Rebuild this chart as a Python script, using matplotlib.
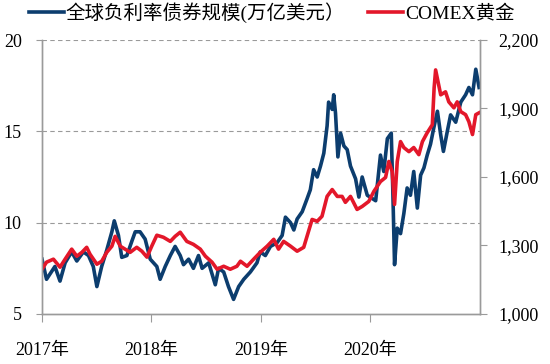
import pandas as pd
import matplotlib.pyplot as plt

plt.rcParams['font.family'] = ['Liberation Serif', 'Noto Sans CJK SC']

# 全球负利率债券规模（万亿美元），左轴
bond_dates = [
    "2017-01-01", "2017-01-16", "2017-02-13", "2017-03-02", "2017-03-19", "2017-04-10",
    "2017-04-27", "2017-05-19", "2017-06-05", "2017-06-21", "2017-07-03", "2017-07-19",
    "2017-08-05", "2017-08-22", "2017-08-30", "2017-09-13", "2017-09-24", "2017-10-11",
    "2017-10-28", "2017-11-08", "2017-11-24", "2017-12-11", "2017-12-28", "2018-01-19",
    "2018-01-30", "2018-02-16", "2018-03-05", "2018-03-21", "2018-04-07", "2018-04-18",
    "2018-05-05", "2018-05-21", "2018-06-07", "2018-06-19", "2018-07-11", "2018-08-02",
    "2018-08-13", "2018-08-30", "2018-09-15", "2018-10-02", "2018-10-19", "2018-11-05",
    "2018-11-27", "2018-12-19", "2018-12-30", "2019-01-16", "2019-02-02", "2019-02-24",
    "2019-03-13", "2019-03-24", "2019-04-10", "2019-04-21", "2019-05-02", "2019-05-19",
    "2019-06-04", "2019-06-15", "2019-06-26", "2019-07-08", "2019-07-19", "2019-07-30",
    "2019-08-10", "2019-08-15", "2019-08-27", "2019-09-01", "2019-09-07", "2019-09-15",
    "2019-09-24", "2019-10-05", "2019-10-16", "2019-10-27", "2019-11-13", "2019-11-24",
    "2019-12-05", "2019-12-22", "2020-01-19", "2020-02-04", "2020-02-15", "2020-02-27",
    "2020-03-11", "2020-03-16", "2020-03-22", "2020-03-31", "2020-04-11", "2020-04-22",
    "2020-05-03", "2020-05-14", "2020-05-25", "2020-06-06", "2020-06-17", "2020-06-28",
    "2020-07-09", "2020-07-20", "2020-07-31", "2020-08-12", "2020-08-23", "2020-09-01",
    "2020-09-14", "2020-09-25", "2020-10-12", "2020-10-29", "2020-11-14", "2020-11-25",
    "2020-12-07", "2020-12-18", "2020-12-29",
]
bond_values = [
    8.0, 6.9, 7.6, 6.8, 7.8, 8.4,
    7.9, 8.4, 8.2, 7.6, 6.5, 7.6,
    8.5, 9.5, 10.1, 9.3, 8.1, 8.2,
    9.0, 9.5, 9.5, 9.1, 8.0, 7.6,
    6.9, 7.6, 8.2, 8.7, 8.2, 7.7,
    8.0, 7.5, 8.2, 7.5, 7.8, 6.6,
    7.5, 7.3, 6.5, 5.8, 6.5, 6.9,
    7.3, 7.8, 8.4, 8.2, 8.7, 8.9,
    9.3, 10.3, 10.0, 9.6, 10.2, 10.6,
    11.3, 11.8, 12.9, 12.5, 13.1, 13.8,
    15.3, 16.6, 16.2, 17.0, 16.0, 13.6,
    14.9, 14.2, 14.0, 13.1, 12.4, 11.4,
    12.5, 11.5, 11.2, 13.7, 12.8, 14.6,
    14.9, 11.9, 7.7, 9.7, 9.4, 10.5,
    11.9, 11.5, 12.8, 10.8, 12.6, 13.0,
    13.7, 14.3, 15.2, 16.1, 14.8, 13.9,
    15.0, 15.9, 15.5, 16.6, 17.0, 17.4,
    17.0, 18.4, 17.4,
]

# COMEX黄金（美元/盎司），右轴
gold_dates = [
    "2017-01-01", "2017-01-16", "2017-02-08", "2017-03-02", "2017-03-19", "2017-04-10",
    "2017-04-27", "2017-05-14", "2017-05-30", "2017-06-10", "2017-07-03", "2017-07-19",
    "2017-08-05", "2017-08-22", "2017-09-02", "2017-09-19", "2017-10-05", "2017-10-22",
    "2017-11-13", "2017-11-30", "2017-12-17", "2018-01-02", "2018-01-19", "2018-02-10",
    "2018-03-05", "2018-03-21", "2018-04-07", "2018-04-29", "2018-05-21", "2018-06-13",
    "2018-06-30", "2018-07-22", "2018-08-08", "2018-08-30", "2018-09-21", "2018-10-13",
    "2018-10-25", "2018-11-16", "2018-12-08", "2018-12-30", "2019-01-22", "2019-02-13",
    "2019-03-01", "2019-03-18", "2019-04-10", "2019-05-02", "2019-05-24", "2019-06-04",
    "2019-06-21", "2019-07-08", "2019-07-24", "2019-08-10", "2019-08-27", "2019-09-13",
    "2019-09-29", "2019-10-10", "2019-10-27", "2019-11-18", "2019-12-05", "2019-12-27",
    "2020-01-13", "2020-02-04", "2020-02-21", "2020-03-03", "2020-03-14", "2020-03-22",
    "2020-03-31", "2020-04-11", "2020-04-22", "2020-05-09", "2020-05-25", "2020-06-11",
    "2020-06-23", "2020-07-09", "2020-07-26", "2020-08-01", "2020-08-06", "2020-08-23",
    "2020-09-08", "2020-09-19", "2020-10-06", "2020-10-17", "2020-10-29", "2020-11-14",
    "2020-11-25", "2020-12-07", "2020-12-18", "2020-12-29",
]
gold_values = [
    1196, 1227, 1240, 1205, 1240, 1284,
    1253, 1270, 1292, 1262, 1218, 1231,
    1270, 1297, 1340, 1297, 1284, 1270,
    1292, 1275, 1249, 1297, 1345, 1336,
    1318, 1340, 1358, 1318, 1305, 1284,
    1253, 1227, 1196, 1209, 1196, 1209,
    1231, 1209, 1240, 1270, 1297, 1327,
    1284, 1318, 1297, 1275, 1292, 1340,
    1414, 1406, 1428, 1515, 1545, 1515,
    1515, 1489, 1515, 1458, 1471, 1493,
    1537, 1580, 1598, 1668, 1624, 1480,
    1668, 1755, 1729, 1711, 1729, 1698,
    1755, 1794, 1829, 1990, 2069, 1960,
    1973, 1929, 1903, 1929, 1886, 1873,
    1842, 1786, 1873, 1881,
]

years = [2017, 2018, 2019, 2020]
year_labels = [f"{y}年" for y in years]

blue = "#0c3d6e"
red = "#e3172a"
gray = "#9a9a9a"

fig = plt.figure(figsize=(5.5, 3.64), dpi=100)
ax = fig.add_axes([0.0764, 0.1374, 0.7963, 0.7527])
ax2 = ax.twinx()

l1, = ax.plot(pd.to_datetime(bond_dates), bond_values, color=blue, linewidth=2.6,
              label="全球负利率债券规模(万亿美元）")
l2, = ax2.plot(pd.to_datetime(gold_dates), gold_values, color=red, linewidth=2.6,
               label="COMEX黄金")

ax.set_xlim(pd.Timestamp("2017-01-01"), pd.Timestamp("2021-01-01"))
ax.set_xticks([pd.Timestamp(f"{y}-01-01") for y in years])
ax.set_xticklabels(year_labels)

ax.set_ylim(5, 20)
ax.set_yticks([5, 10, 15, 20])
ax2.set_ylim(1000, 2200)
ax2.set_yticks([1000, 1300, 1600, 1900, 2200])
ax2.set_yticklabels([f"{v:,}" for v in [1000, 1300, 1600, 1900, 2200]])

ax.yaxis.grid(True, linestyle=(0, (4, 3)), color=gray, linewidth=0.8)
ax.get_ygridlines()[0].set_visible(False)

for a in (ax, ax2):
    a.spines["top"].set_visible(False)
    for s in ("left", "right", "bottom"):
        a.spines[s].set_color(gray)
        a.spines[s].set_linewidth(1.0)

ax.tick_params(axis="x", direction="out", length=6, color=gray, labelsize=13, pad=14)
ax.tick_params(axis="y", direction="out", length=4.5, color=gray, labelsize=13, pad=10)
ax2.tick_params(axis="y", direction="out", length=5, color=gray, labelsize=13, pad=8)

fig.legend([l1, l2], [l1.get_label(), l2.get_label()], loc="upper left",
           bbox_to_anchor=(0.052, 0.995), ncol=2, frameon=False, fontsize=14,
           handlelength=1.8, handletextpad=0.1, columnspacing=1.2,
           borderaxespad=0, borderpad=0)

fig.savefig("out.png", dpi=100)
